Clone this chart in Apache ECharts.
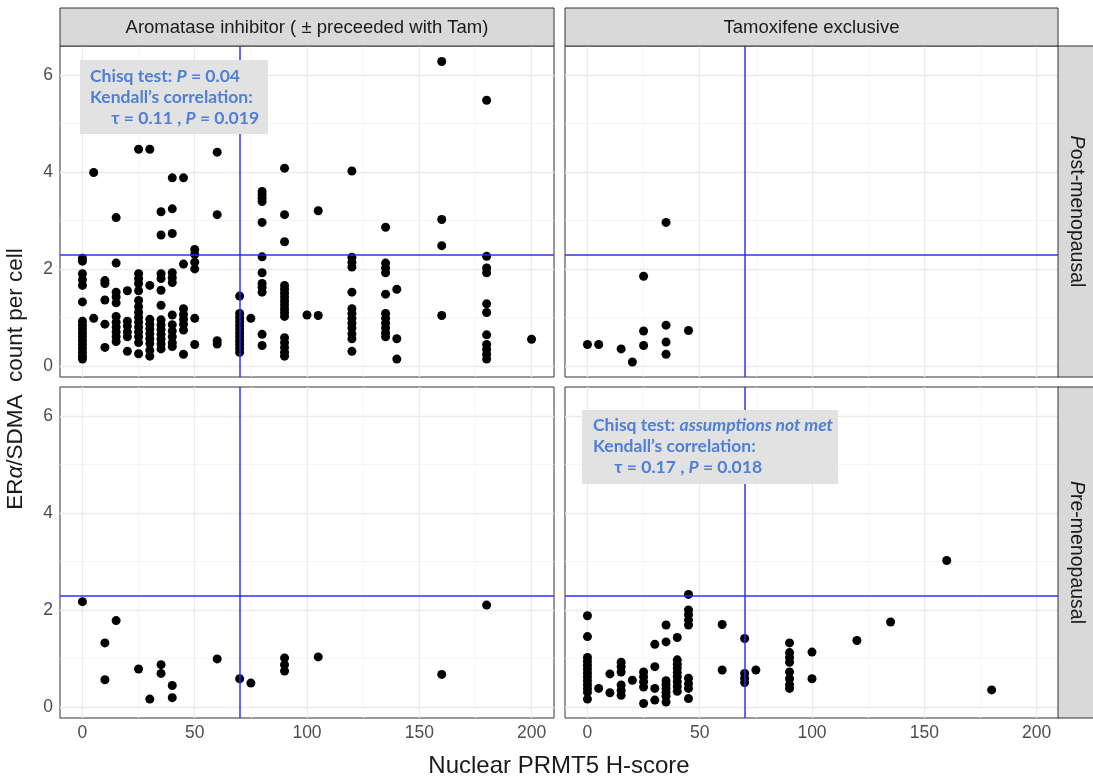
<!DOCTYPE html>
<html><head><meta charset="utf-8">
<script src="https://cdn.jsdelivr.net/npm/echarts@6/dist/echarts.min.js"></script>
<style>html,body{margin:0;padding:0;background:#fff}#c{width:1093px;height:779px}</style>
</head><body><div id="c"></div><script>
// ---- data ----
const xTicks = [0, 50, 100, 150, 200];
const xMinor = [25, 75, 125, 175];
const yTicks = [0, 2, 4, 6];
const yMinor = [1, 3, 5];
const colLabels = ['Aromatase inhibitor ( \u00b1 preceeded with Tam)', 'Tamoxifene exclusive'];
const rowLabels = ['{i|P}ost-menopausal', '{i|P}re-menopausal'];
const xTitle = 'Nuclear PRMT5 H-score';
const yTitle = 'ER{a|\u03b1}/SDMA  count per cell';
const vRef = 70;
const hRef = 2.3;

// [H-score, [ERa/SDMA values]]
const aiPost = [
  [0, [2.22,2.16,1.9,1.78,1.66,1.32,0.92,0.84,0.76,0.68,0.6,0.52,0.44,0.36,0.28,0.2,0.14]],
  [5, [3.99,0.98]],
  [10, [1.76,1.70,1.36,0.86,0.38]],
  [15, [3.06,2.12,1.52,1.42,1.30,1.02,0.9,0.8,0.7,0.6,0.5]],
  [20, [1.55,0.92,0.82,0.7,0.6,0.3]],
  [25, [4.47,1.9,1.8,1.7,1.55,1.35,1.22,1.1,1.0,0.9,0.8,0.7,0.6,0.48,0.25]],
  [30, [4.47,1.66,0.96,0.86,0.76,0.66,0.56,0.46,0.32,0.2]],
  [35, [3.18,2.7,1.9,1.8,1.56,1.25,0.95,0.85,0.75,0.65,0.55,0.45,0.35]],
  [40, [3.88,3.24,2.73,1.92,1.82,1.72,1.05,0.85,0.72,0.6,0.48,0.4]],
  [45, [3.88,2.1,1.18,1.06,0.96,0.86,0.74,0.24]],
  [50, [2.4,2.3,2.14,2.0,0.98,0.44]],
  [60, [4.41,3.12,0.52,0.45]],
  [70, [1.44,1.08,1.0,0.92,0.84,0.76,0.68,0.6,0.52,0.44,0.36,0.28]],
  [75, [0.98]],
  [80, [3.6,3.53,3.46,3.39,2.96,2.25,1.92,1.7,1.62,1.52,0.65,0.42]],
  [90, [4.08,3.12,2.56,1.66,1.58,1.5,1.42,1.34,1.26,1.18,1.1,1.02,0.58,0.48,0.38,0.28,0.2]],
  [100, [1.05]],
  [105, [3.2,1.04]],
  [120, [4.02,2.24,2.14,2.04,1.52,1.18,1.08,0.98,0.88,0.78,0.66,0.56,0.3]],
  [135, [2.86,2.12,2.02,1.92,1.48,1.08,0.98,0.88,0.78,0.68,0.6]],
  [140, [1.58,0.56,0.14]],
  [160, [6.28,3.02,2.48,1.04]],
  [180, [5.48,2.26,2.02,1.92,1.28,1.1,0.64,0.44,0.34,0.24,0.14]],
  [200, [0.55]]
];
const tamPost = [
  [0, [0.44]], [5, [0.44]], [15, [0.35]], [20, [0.08]],
  [25, [1.85,0.72,0.42]], [35, [2.96,0.84,0.49,0.24]], [45, [0.73]]
];
const aiPre = [
  [0, [2.17]], [10, [1.32,0.56]], [15, [1.78]], [25, [0.78]], [30, [0.16]],
  [35, [0.87,0.69]], [40, [0.44,0.19]], [60, [0.99]], [70, [0.58]], [75, [0.49]],
  [90, [1.01,0.87,0.74]], [105, [1.03]], [160, [0.67]], [180, [2.10]]
];
const tamPre = [
  [0, [1.88,1.45,1.02,0.94,0.86,0.78,0.7,0.62,0.54,0.46,0.38,0.3,0.16]],
  [5, [0.38]],
  [10, [0.68,0.29]],
  [15, [0.92,0.83,0.72,0.45,0.34,0.24]],
  [20, [0.55]],
  [25, [0.72,0.62,0.52,0.41,0.07]],
  [30, [1.29,0.83,0.38,0.14]],
  [35, [1.69,1.34,0.54,0.46,0.38,0.3,0.22,0.1]],
  [40, [1.43,0.97,0.88,0.8,0.71,0.62,0.52,0.42,0.32]],
  [45, [2.32,2.0,1.9,1.79,1.69,0.59,0.48,0.38,0.17]],
  [60, [1.70,0.76]],
  [70, [1.41,0.69,0.59,0.5]],
  [75, [0.76]],
  [90, [1.32,1.12,1.02,0.92,0.72,0.58,0.46,0.38]],
  [100, [1.13,0.58]],
  [120, [1.37]],
  [135, [1.75]],
  [160, [3.02]],
  [180, [0.35]]
];
const statsAI = ['{b|Chisq test: }{bi|P}{b| = 0.04}', '{b|Kendall\u2019s correlation:}', '{b|     \u03c4 = 0.11 , }{bi|P}{b| = 0.019}'];
const statsTam = ['{b|Chisq test: }{bi|assumptions not met}', '{b|Kendall\u2019s correlation:}', '{b|     \u03c4 = 0.17 , }{bi|P}{b| = 0.018}'];

// ---- layout ----
const FONT = 'Liberation Sans, Arial, sans-serif';
const panels = [
  {data: aiPost, left: 60, top: 46, showX: false, showY: true},
  {data: tamPost, left: 565, top: 46, showX: false, showY: false},
  {data: aiPre, left: 60, top: 387, showX: true, showY: true},
  {data: tamPre, left: 565, top: 387, showX: true, showY: false}
];
const PW = 494, PH = 331;

const flat = cols => cols.flatMap(([x, ys]) => ys.map(y => [x, y]));

const grid = [], xAxis = [], yAxis = [], series = [];
panels.forEach((p, i) => {
  grid.push({left: p.left, top: p.top, width: PW, height: PH, show: true, z: 0,
    borderColor: '#333333', borderWidth: 1, backgroundColor: '#ffffff', containLabel: false});
  xAxis.push({gridIndex: i, type: 'value', min: -10, max: 210,
    axisLine: {show: false}, splitLine: {show: false},
    axisTick: {show: p.showX, customValues: xTicks, length: 4, lineStyle: {color: '#333333', width: 1}},
    axisLabel: {show: p.showX, customValues: xTicks, color: '#4d4d4d', fontSize: 17.5, margin: 6, fontFamily: FONT}});
  yAxis.push({gridIndex: i, type: 'value', min: -0.23, max: 6.6,
    axisLine: {show: false}, splitLine: {show: false},
    axisTick: {show: p.showY, customValues: yTicks, length: 4, lineStyle: {color: '#333333', width: 1}},
    axisLabel: {show: p.showY, customValues: yTicks, color: '#4d4d4d', fontSize: 17.5, margin: 7, fontFamily: FONT}});
  const major = {color: '#ebebeb', width: 1.3, type: 'solid'};
  const minor = {color: '#f4f4f4', width: 0.8, type: 'solid'};
  series.push({type: 'scatter', xAxisIndex: i, yAxisIndex: i, data: [], z: 1, silent: true,
    markLine: {silent: true, z: 1, symbol: 'none', animation: false, label: {show: false},
      data: [
        ...xMinor.map(v => ({xAxis: v, lineStyle: minor})),
        ...yMinor.map(v => ({yAxis: v, lineStyle: minor})),
        ...xTicks.map(v => ({xAxis: v, lineStyle: major})),
        ...yTicks.map(v => ({yAxis: v, lineStyle: major}))
      ]}});
  series.push({type: 'scatter', xAxisIndex: i, yAxisIndex: i, data: flat(p.data), z: 3,
    symbol: 'circle', symbolSize: 9, itemStyle: {color: '#000000', opacity: 1}});
  series.push({type: 'scatter', xAxisIndex: i, yAxisIndex: i, data: [], z: 4, silent: true,
    markLine: {silent: true, z: 4, symbol: 'none', animation: false, label: {show: false},
      lineStyle: {color: 'rgba(40,40,255,0.72)', width: 2, type: 'solid'},
      data: [{xAxis: vRef}, {yAxis: hRef}]}});
});

const graphic = [];
// top strips
[[60, PW], [565, PW - 1]].forEach(([l, w], j) => {
  graphic.push({type: 'rect', shape: {x: l, y: 8, width: w, height: 38},
    style: {fill: '#d9d9d9', stroke: '#333333', lineWidth: 1}, z: 10});
  graphic.push({type: 'text', x: l + w / 2, y: 28, z: 11,
    style: {text: colLabels[j], align: 'center', verticalAlign: 'middle', fontSize: 18.5, fill: '#1a1a1a', fontFamily: FONT}});
});
// right strips
[46, 387].forEach((t, j) => {
  graphic.push({type: 'rect', shape: {x: 1058, y: t, width: 50, height: PH},
    style: {fill: '#d9d9d9', stroke: '#333333', lineWidth: 1}, z: 10});
  graphic.push({type: 'text', x: 1076, y: t + PH / 2, rotation: -Math.PI / 2, z: 11,
    style: {text: rowLabels[j], align: 'center', verticalAlign: 'middle', fontSize: 19.5, fill: '#1a1a1a', fontFamily: FONT,
      rich: {i: {fontStyle: 'italic', fontSize: 19.5, fill: '#1a1a1a', fontFamily: FONT}}}});
});
// axis titles
graphic.push({type: 'text', x: 559, y: 766, z: 11,
  style: {text: xTitle, align: 'center', verticalAlign: 'middle', fontSize: 24, fill: '#1a1a1a', fontFamily: FONT}});
graphic.push({type: 'text', x: 16, y: 379, rotation: Math.PI / 2, z: 11,
  style: {text: yTitle, align: 'center', verticalAlign: 'middle', fontSize: 22.5, fill: '#1a1a1a', fontFamily: FONT,
    rich: {a: {fontStyle: 'italic', fontSize: 22.5, fill: '#1a1a1a', fontFamily: FONT}}}});
// stats boxes
const blue = '#4f7fd6';
const SF = 'Lato, Open Sans, sans-serif';
const richStats = {
  b: {fontFamily: SF, fontWeight: 'bold', fontSize: 17.5, fill: blue, lineHeight: 21},
  bi: {fontFamily: SF, fontWeight: 'bold', fontStyle: 'italic', fontSize: 17.5, fill: blue, lineHeight: 21}
};
[[80, 60, 188, 74, 90, 66, statsAI], [582, 410, 256, 74, 593, 415, statsTam]].forEach(([x, y, w, h, tx, ty, lines]) => {
  graphic.push({type: 'rect', shape: {x: x, y: y, width: w, height: h}, style: {fill: '#e2e2e2'}, z: 12});
  graphic.push({type: 'text', x: tx, y: ty, z: 13,
    style: {text: lines.join('\n'), align: 'left', verticalAlign: 'top', rich: richStats, fontSize: 17.5, lineHeight: 21}});
});

const chart = echarts.init(document.getElementById('c'), null, {renderer: 'canvas'});
chart.setOption({animation: false, backgroundColor: '#ffffff', grid, xAxis, yAxis, series, graphic});
</script></body></html>
